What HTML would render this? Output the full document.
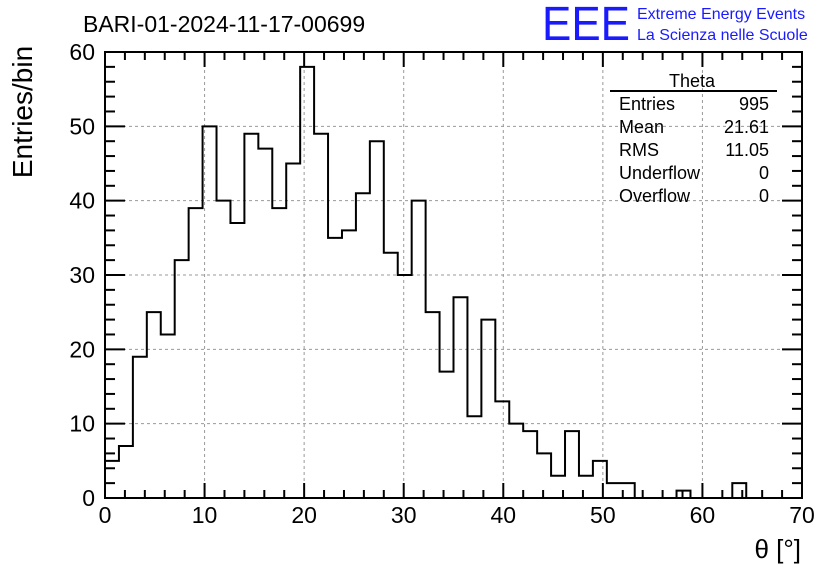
<!DOCTYPE html>
<html><head><meta charset="utf-8"><style>
body{margin:0;background:#fff;}
svg text{font-family:"Liberation Sans",sans-serif;}
</style></head><body>
<svg id="c" width="836" height="572" xmlns="http://www.w3.org/2000/svg">
<rect width="836" height="572" fill="#fff"/>
<text x="83" y="32" font-size="23">BARI-01-2024-11-17-00699</text>
<text x="542" y="40" font-size="48" fill="#1a1aff" textLength="88" lengthAdjust="spacingAndGlyphs">EEE</text>
<text x="637" y="19" font-size="16" fill="#1a1aff">Extreme Energy Events</text>
<text x="637" y="40" font-size="16" fill="#1a1aff">La Scienza nelle Scuole</text>
<g id="grid"></g>
<g id="bars"></g>
<g id="axes"></g>
<text transform="translate(32,112) rotate(-90)" font-size="28" text-anchor="middle">Entries/bin</text>
<text x="801" y="558" font-size="26" text-anchor="end">θ [°]</text>
<g>
<text x="692" y="87" font-size="18" text-anchor="middle">Theta</text>
<line x1="610" y1="91" x2="777" y2="91" stroke="#000" stroke-width="2"/>
<g id="stats" font-size="18"></g>
</g>
</svg>
<script>
const binWidth=1.4;
const counts=[5,7,19,25,22,32,39,50,40,37,49,47,39,45,58,49,35,36,41,48,33,30,40,25,17,27,11,24,13,10,9,6,3,9,3,5,2,2,0,0,0,1,0,0,0,2,0,0,0,0];
const xTicks=[0,10,20,30,40,50,60,70];
const yTicks=[0,10,20,30,40,50,60];
const statLabels=["Entries","Mean","RMS","Underflow","Overflow"];
const statValues=["995","21.61","11.05","0","0"];
const X0=105,X1=802,Y0=498,Y1=52;
const xs=v=>X0+(v-0)/70*(X1-X0);
const ys=v=>Y0-(v-0)/60*(Y0-Y1);
const NS="http://www.w3.org/2000/svg";
function mk(t,a,p){const e=document.createElementNS(NS,t);for(const k in a)e.setAttribute(k,a[k]);p.appendChild(e);return e;}
const grid=document.getElementById('grid'),axes=document.getElementById('axes'),bars=document.getElementById('bars');
xTicks.slice(1,-1).forEach(v=>{const l=mk('line',{x1:xs(v),x2:xs(v),y1:Y1,y2:Y0,stroke:'#999','stroke-dasharray':'3,3'},grid);

});
yTicks.slice(1,-1).forEach(v=>{const l=mk('line',{x1:X0,x2:X1,y1:ys(v),y2:ys(v),stroke:'#999','stroke-dasharray':'3,3'},grid);

});
let d='M'+xs(0)+' '+ys(0);
counts.forEach((c,i)=>{d+=' L'+xs(i*binWidth)+' '+ys(c)+' L'+xs((i+1)*binWidth)+' '+ys(c);});
d+=' L'+xs(counts.length*binWidth)+' '+ys(0);
const p=mk('path',{d:d,fill:'none',stroke:'#000','stroke-width':2},bars);


mk('rect',{x:X0,y:Y1,width:X1-X0,height:Y0-Y1,fill:'none',stroke:'#000','stroke-width':2},axes);
for(let v=0;v<=70;v+=2){const x=xs(v),L=v%10==0?15:8;
mk('line',{x1:x,x2:x,y1:Y0,y2:Y0-L,stroke:'#000','stroke-width':2},axes);
mk('line',{x1:x,x2:x,y1:Y1,y2:Y1+L,stroke:'#000','stroke-width':2},axes);}
for(let v=0;v<=60;v+=2){const y=ys(v),L=v%10==0?20:10;
mk('line',{x1:X0,x2:X0+L,y1:y,y2:y,stroke:'#000','stroke-width':2},axes);
mk('line',{x1:X1,x2:X1-L,y1:y,y2:y,stroke:'#000','stroke-width':2},axes);}
xTicks.forEach(v=>{const t=mk('text',{x:xs(v),y:523,'font-size':23,'text-anchor':'middle'},axes);t.textContent=v;

});
yTicks.forEach(v=>{const t=mk('text',{x:95,y:ys(v)+8,'font-size':23,'text-anchor':'end'},axes);t.textContent=v;

});
const st=document.getElementById('stats');
statLabels.forEach((s,i)=>{const y=110+i*23;
const a=mk('text',{x:619,y:y},st);a.textContent=s;


const b=mk('text',{x:769,y:y,'text-anchor':'end'},st);b.textContent=statValues[i];

});
</script>
</body></html>
